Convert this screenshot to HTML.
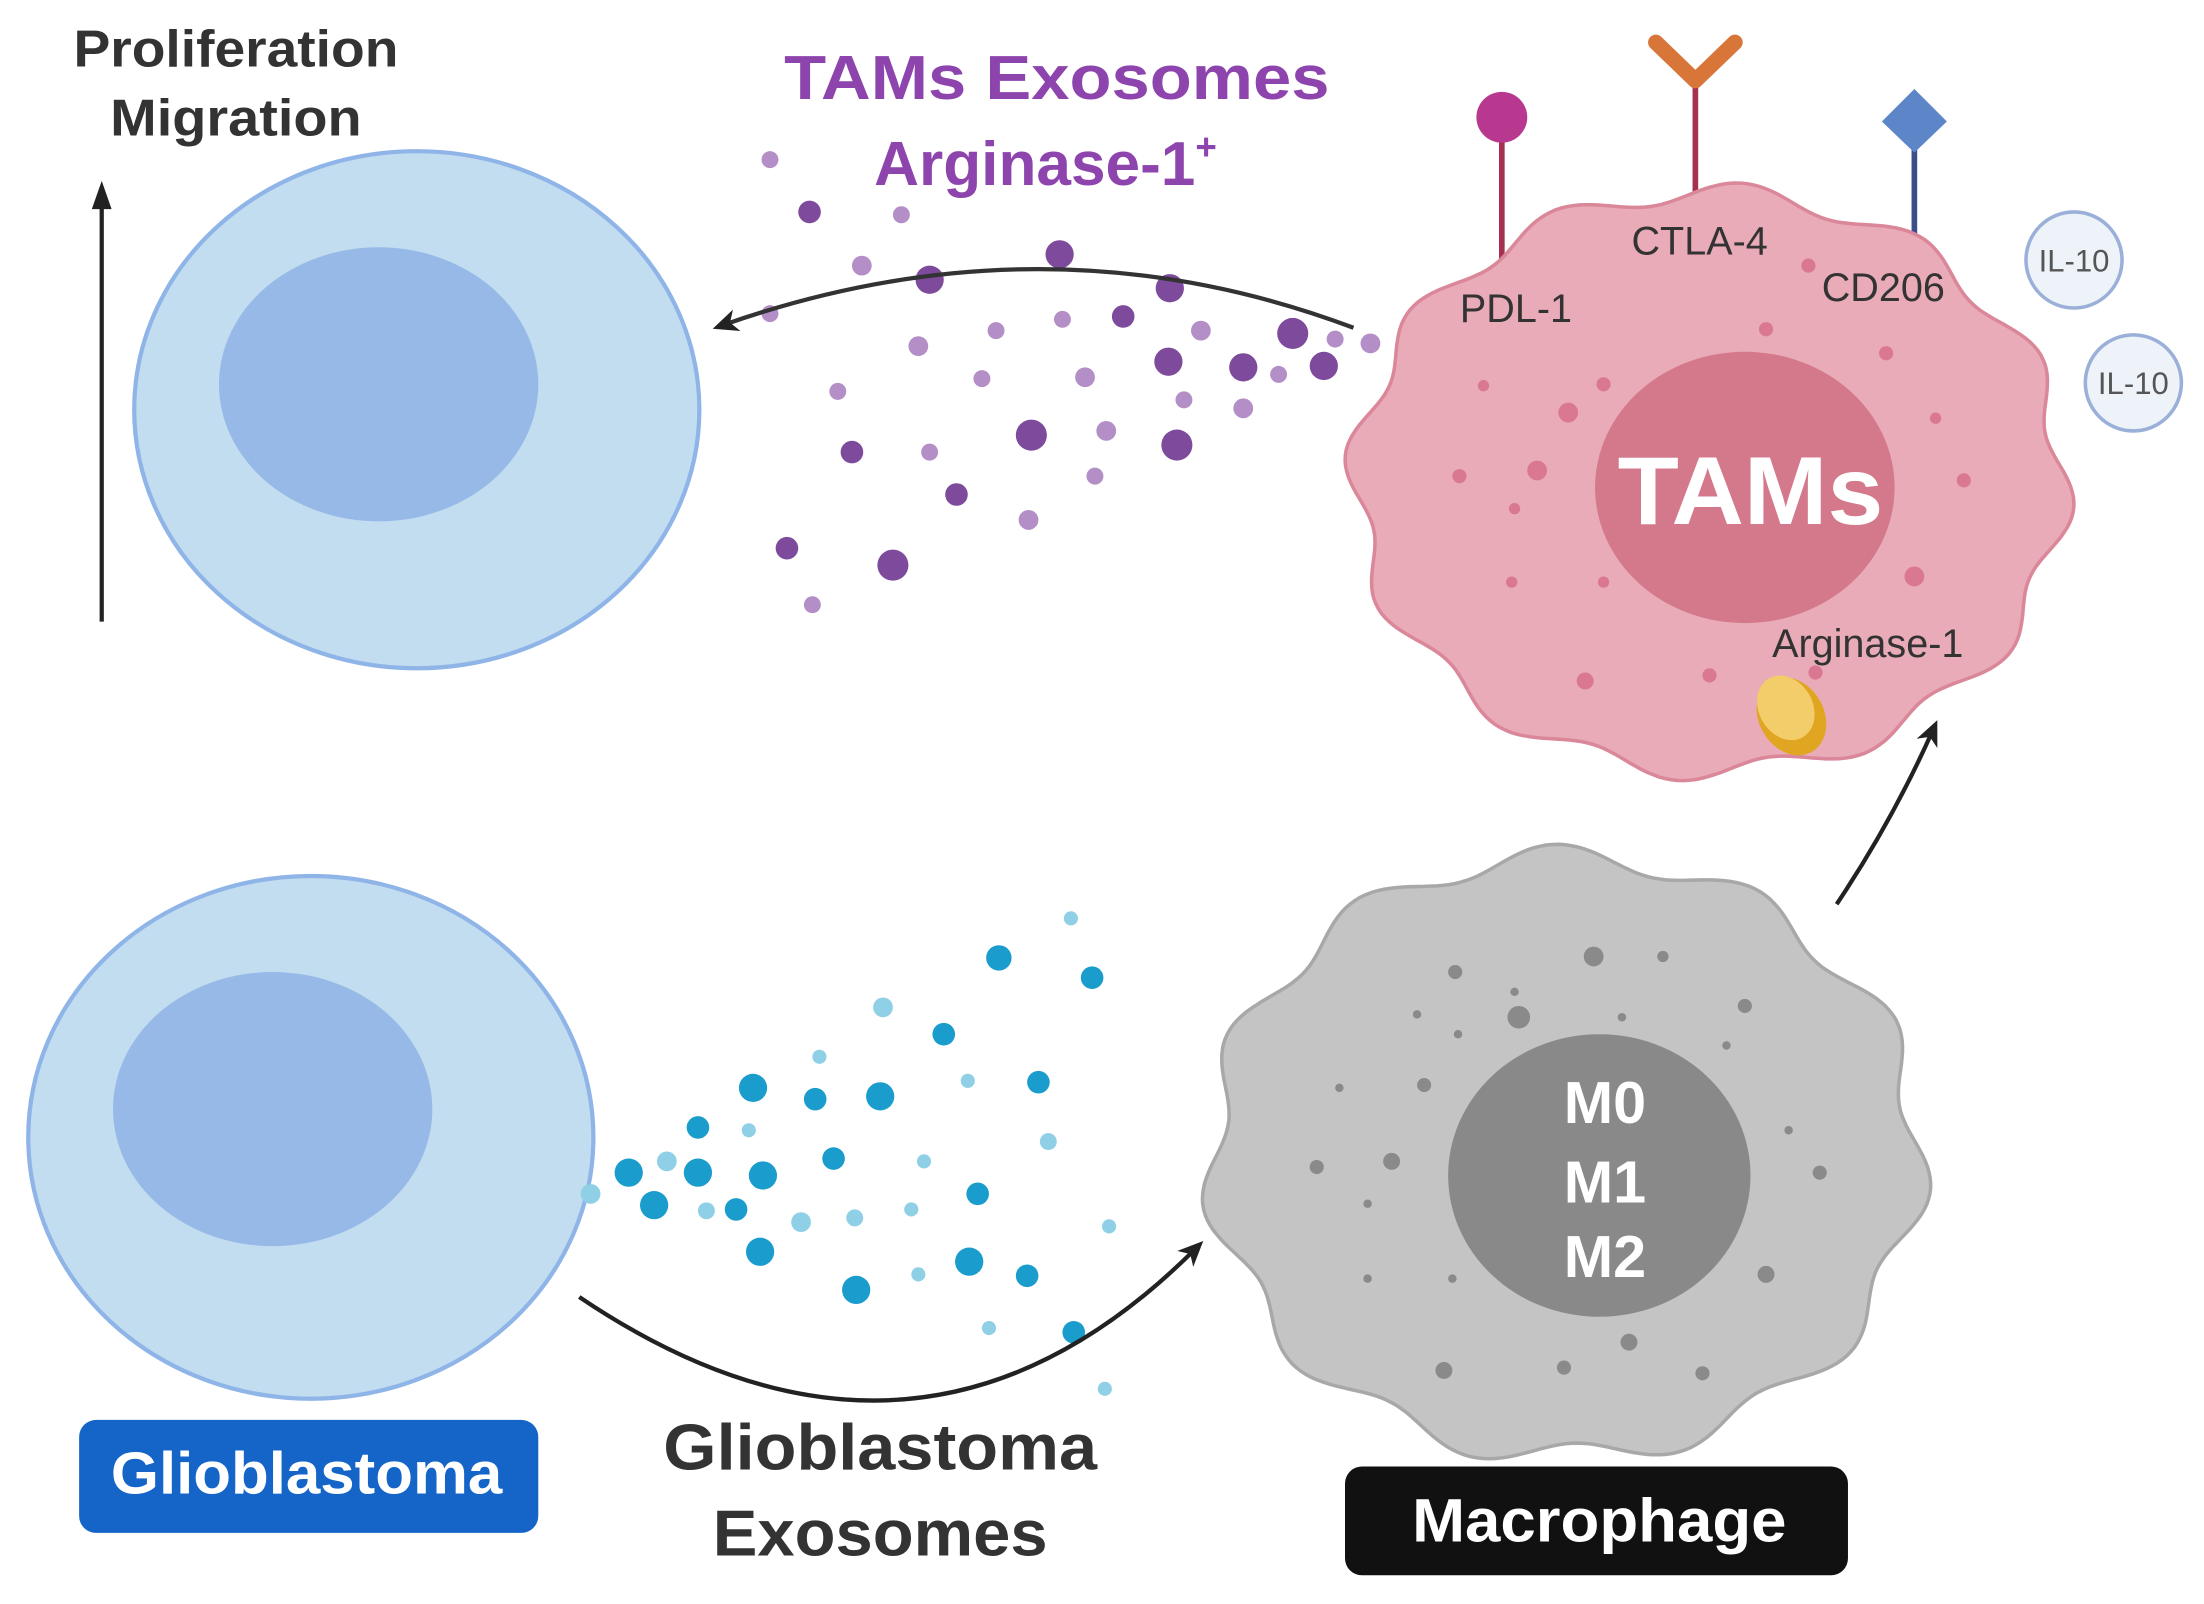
<!DOCTYPE html>
<html><head><meta charset="utf-8"><style>
html,body{margin:0;padding:0;background:#fff}
svg{display:block}
text{font-family:"Liberation Sans",sans-serif}
</style></head><body>
<svg id="s" width="2204" height="1604" viewBox="0 0 1560 1135.3" xmlns="http://www.w3.org/2000/svg">
<defs>
<marker id="ah" markerWidth="18" markerHeight="16" refX="10" refY="8" orient="auto" markerUnits="userSpaceOnUse"><path d="M0,0 L18,8 L0,16 L5,8 Z" fill="#222"/></marker>
</defs>
<rect width="1560" height="1136" fill="#fff"/>
<text x="167" y="47" font-size="37" font-weight="bold" fill="#333" text-anchor="middle" textLength="230" lengthAdjust="spacingAndGlyphs">Proliferation</text>
<text x="167" y="96" font-size="37" font-weight="bold" fill="#333" text-anchor="middle" textLength="178" lengthAdjust="spacingAndGlyphs">Migration</text>
<line x1="72" y1="440" x2="72" y2="140" stroke="#222" stroke-width="3"/>
<path d="M65,148 L72,128 L79,148 Z" fill="#222"/>
<ellipse cx="295" cy="290" rx="200" ry="183" fill="#c2dcf0" stroke="#8fb5e8" stroke-width="3"/>
<ellipse cx="268" cy="272" rx="113" ry="97" fill="#96b9e7"/>
<ellipse cx="220" cy="805" rx="200" ry="185" fill="#c2dcf0" stroke="#8fb5e8" stroke-width="3"/>
<ellipse cx="193" cy="785" rx="113" ry="97" fill="#96b9e7"/>
<text x="748" y="70" font-size="44" font-weight="bold" fill="#8e44ad" text-anchor="middle" textLength="386" lengthAdjust="spacingAndGlyphs">TAMs Exosomes</text>
<text x="740" y="131" font-size="44" font-weight="bold" fill="#8e44ad" text-anchor="middle">Arginase-1<tspan font-size="26" dy="-18">+</tspan></text>
<g id="dots"></g>
<line x1="1063" y1="90" x2="1063" y2="186" stroke="#a5304f" stroke-width="4"/>
<circle cx="1063" cy="83" r="18" fill="#b8388f"/>
<line x1="1200" y1="55" x2="1200" y2="150" stroke="#a5304f" stroke-width="4"/>
<path d="M1172,30 L1200,57 L1228,30" fill="none" stroke="#d8763a" stroke-width="11" stroke-linecap="round" stroke-linejoin="round"/>
<line x1="1355" y1="95" x2="1355" y2="182" stroke="#3a4e8a" stroke-width="4"/>
<path d="M1355,63 L1378,86 L1355,108 L1332,86 Z" fill="#5d86c8"/>
<g id="tam"></g>
<ellipse cx="1235" cy="345" rx="106" ry="96" fill="#d4788b"/>
<text x="1239" y="371" font-size="68" font-weight="bold" fill="#fff" text-anchor="middle" textLength="188" lengthAdjust="spacingAndGlyphs">TAMs</text>
<text x="1073" y="228" font-size="28" fill="#333" text-anchor="middle">PDL-1</text>
<text x="1203" y="180" font-size="28" fill="#333" text-anchor="middle">CTLA-4</text>
<text x="1333" y="213" font-size="28" fill="#333" text-anchor="middle">CD206</text>
<text x="1322" y="465" font-size="28" fill="#333" text-anchor="middle">Arginase-1</text>
<ellipse cx="1268" cy="507" rx="23" ry="29" transform="rotate(-30 1268 507)" fill="#e0a622"/>
<ellipse cx="1264" cy="501" rx="19" ry="24" transform="rotate(-30 1264 501)" fill="#f3cd6a"/>
<circle cx="1468" cy="184" r="34" fill="#eef3fa" stroke="#9ab0d8" stroke-width="2.5"/>
<text x="1468" y="192" font-size="22" fill="#555" text-anchor="middle">IL-10</text>
<circle cx="1510" cy="271" r="34" fill="#eef3fa" stroke="#9ab0d8" stroke-width="2.5"/>
<text x="1510" y="279" font-size="22" fill="#555" text-anchor="middle">IL-10</text>
<g id="mac"></g>
<ellipse cx="1132" cy="832" rx="107" ry="100" fill="#898989"/>
<text x="1136" y="795" font-size="42" font-weight="bold" fill="#fff" text-anchor="middle">M0</text>
<text x="1136" y="851" font-size="42" font-weight="bold" fill="#fff" text-anchor="middle">M1</text>
<text x="1136" y="904" font-size="42" font-weight="bold" fill="#fff" text-anchor="middle">M2</text>
<path d="M958,232 Q740,150 512,230" fill="none" stroke="#333" stroke-width="3" marker-end="url(#ah)"/>
<path d="M1300,640 Q1340,580 1368,517" fill="none" stroke="#222" stroke-width="3" marker-end="url(#ah)"/>
<path d="M410,918 Q650,1080 846,884" fill="none" stroke="#222" stroke-width="3" marker-end="url(#ah)"/>
<rect x="56" y="1005" width="325" height="80" rx="12" fill="#1565c8"/>
<text x="217" y="1057" font-size="42" font-weight="bold" fill="#fff" text-anchor="middle" textLength="277" lengthAdjust="spacingAndGlyphs">Glioblastoma</text>
<text x="623" y="1040" font-size="46" font-weight="bold" fill="#333" text-anchor="middle" textLength="307" lengthAdjust="spacingAndGlyphs">Glioblastoma</text>
<text x="623" y="1101" font-size="46" font-weight="bold" fill="#333" text-anchor="middle" textLength="237" lengthAdjust="spacingAndGlyphs">Exosomes</text>
<rect x="952" y="1038" width="356" height="77" rx="12" fill="#111"/>
<text x="1132" y="1091" font-size="43" font-weight="bold" fill="#fff" text-anchor="middle" textLength="265" lengthAdjust="spacingAndGlyphs">Macrophage</text>
</svg>
<script>
var NS="http://www.w3.org/2000/svg";
function wavy(cx,cy,rx,ry,n,a,ph){var d="";for(var i=0;i<=360;i++){var t=i/360*2*Math.PI;var f=1+a*Math.sin(n*t+ph);var x=cx+rx*f*Math.cos(t),y=cy+ry*f*Math.sin(t);d+=(i?"L":"M")+x.toFixed(1)+","+y.toFixed(1);}return d+"Z";}
function add(g,tag,at){var e=document.createElementNS(NS,tag);for(var k in at)e.setAttribute(k,at[k]);g.appendChild(e);return e;}
var tam=document.getElementById("tam");
add(tam,"path",{d:wavy(1210,341,250,205,12,0.035,0.5),fill:"#e9abb8",stroke:"#da8799","stroke-width":2.5});
[[1135,272,5],[1180,318,9],[1250,233,5],[1110,292,7],[1050,273,4],[1088,333,7],[1033,337,5],[1072,360,4],[1070,412,4],[1135,412,4],[1355,408,7],[1390,340,5],[1370,296,4],[1122,482,6],[1210,478,5],[1285,476,5],[1335,250,5],[1176,295,4],[1280,188,5]].forEach(function(p){add(tam,"circle",{cx:p[0],cy:p[1],r:p[2],fill:"#d97890"});});
var mac=document.getElementById("mac");
add(mac,"path",{d:wavy(1108,818,250,212,11,0.04,0.3),fill:"#c4c4c4",stroke:"#a8a8a8","stroke-width":2.5});
[[1030,688,5],[1128,677,7],[1177,677,4],[1075,720,8],[1072,702,3],[1003,718,3],[1032,732,3],[1148,720,3],[1235,712,5],[1222,740,3],[948,770,3],[1008,768,5],[932,826,5],[985,822,6],[968,852,3],[1266,800,3],[1288,830,5],[968,905,3],[1028,905,3],[1250,902,6],[1153,950,6],[1022,970,6],[1107,968,5],[1205,972,5]].forEach(function(p){add(mac,"circle",{cx:p[0],cy:p[1],r:p[2],fill:"#8a8a8a"});});
var g=document.getElementById("dots");
var pur=[[545,113,6],[573,150,8],[638,152,6],[610,188,7],[658,198,10],[750,180,10],[828,204,10],[545,222,6],[650,245,7],[705,234,6],[752,226,6],[795,224,8],[850,234,7],[915,236,11],[945,240,6],[970,243,7],[827,256,10],[880,260,10],[937,259,10],[905,265,6],[768,267,7],[695,268,6],[593,277,6],[880,289,7],[838,283,6],[730,308,11],[783,305,7],[833,315,11],[603,320,8],[658,320,6],[775,337,6],[677,350,8],[728,368,7],[557,388,8],[632,400,11],[575,428,6]];
pur.forEach(function(p){var l=p[2]<8;add(g,"circle",{cx:p[0],cy:p[1],r:p[2],fill:l?"#b48ec6":"#7d4a9c"});});
var blu=[[758,650,5],[707,678,9],[773,692,8],[625,713,7],[668,732,8],[580,748,5],[533,770,10],[577,778,8],[623,776,10],[685,765,5],[735,766,8],[494,798,8],[530,800,5],[742,808,6],[445,830,10],[472,822,7],[494,830,10],[540,832,10],[590,820,8],[654,822,5],[418,845,7],[463,853,10],[500,857,6],[521,856,8],[567,865,7],[605,862,6],[645,856,5],[692,845,8],[785,868,5],[538,886,10],[686,893,10],[727,903,8],[606,913,10],[650,902,5],[700,940,5],[760,943,8],[782,983,5]];
blu.forEach(function(p){var l=p[2]<8;add(g,"circle",{cx:p[0],cy:p[1],r:p[2],fill:l?"#8fd0e6":"#1a9ccc"});});
</script>
</body></html>
